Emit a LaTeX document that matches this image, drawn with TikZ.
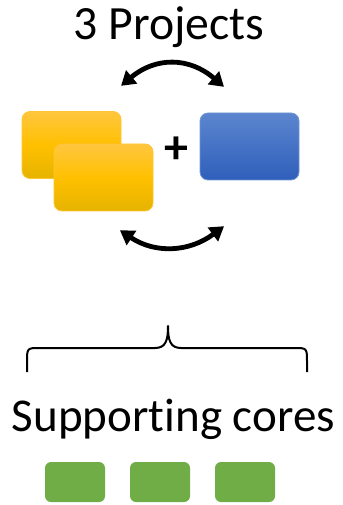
\documentclass[tikz,border=0pt]{standalone}
\usepackage{fontspec}
\setmainfont[Ligatures=NoCommon]{Carlito}
\usetikzlibrary{arrows.meta}
\definecolor{ytop}{HTML}{FFC63F}
\definecolor{ymid}{HTML}{FFC000}
\definecolor{ybot}{HTML}{E6B300}
\definecolor{yline}{HTML}{FFC533}
\definecolor{btop}{HTML}{5B85CE}
\definecolor{bbot}{HTML}{2F5FBB}
\definecolor{bline}{HTML}{7295D4}
\definecolor{cgreen}{HTML}{70AD47}
\tikzset{
  projbox/.style={rounded corners=6pt, minimum width={99*0.75pt}, minimum height={67*0.75pt}, inner sep=0pt, line width=0.6pt},
  yelbox/.style={projbox, draw=yline, top color=ytop, bottom color=ybot, middle color=ymid},
  bluebox/.style={projbox, draw=bline, top color=btop, bottom color=bbot},
  corebox/.style={rounded corners=4.5pt, fill=cgreen, minimum width={60*0.75pt}, minimum height={40*0.75pt}, inner sep=0pt},
  swap/.style={line width=3.6pt, {Triangle[length=10.5pt,width=12.5pt]}-{Triangle[length=10.5pt,width=12.5pt]}, shorten <=-1pt, shorten >=-1pt},
  bracestyle/.style={line width=1.5pt, line join=round},
  bigtext/.style={font=\fontsize{35.8}{42}\selectfont, anchor=base, inner sep=0pt}
}
\begin{document}
\begin{tikzpicture}[x=0.75pt,y=-0.75pt]
\useasboundingbox (0,0) rectangle (342,505);
\node[bigtext] (title) at (169,40) {3 Projects};
\node[yelbox] (y1) at (71.5,145) {};
\node[yelbox] (y2) at (103.5,177.5) {};
\node[bluebox] (b1) at (249.5,146.5) {};
\node[font=\fontsize{36}{40}\selectfont\bfseries, inner sep=0pt] (plus) at (176,150) {+};
\coordinate (ta) at (122,85);
\coordinate (tb) at (223,86);
\coordinate (ba) at (121,231);
\coordinate (bb) at (223,227);
\draw[swap] (ta) .. controls (155.7,56.7) and (189.3,57) .. (tb);
\draw[swap] (ba) .. controls (155,253.7) and (189,252.3) .. (bb);
\coordinate (bl) at (27,372);
\coordinate (br) at (307,372);
\coordinate (btip) at (168,326);
\draw[bracestyle] (bl) -- (27,362) .. controls (27,348) .. (40,348) -- (155,348) .. controls (166,348) and (168,340) .. (btip)
  .. controls (168,340) and (170,348) .. (181,348) -- (294,348) .. controls (307,348) .. (307,362) -- (br);
\node[bigtext, font=\fontsize{35.3}{42}\selectfont] (sup) at (173.5,431) {Supporting cores};
\node[corebox] (c1) at (75,482) {};
\node[corebox] (c2) at (160,482) {};
\node[corebox] (c3) at (245,482) {};
\end{tikzpicture}
\end{document}
